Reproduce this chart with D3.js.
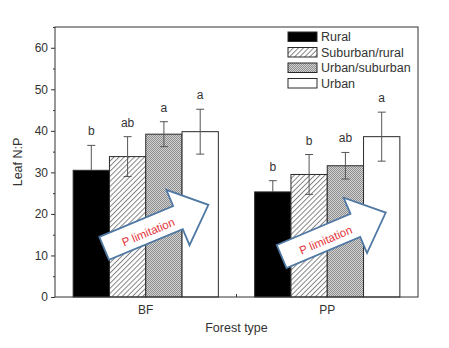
<!DOCTYPE html>
<html>
<head>
<meta charset="utf-8">
<script src="https://cdn.jsdelivr.net/npm/d3@7"></script>
<style>
  html, body { margin: 0; padding: 0; background: #fff; }
  svg text { font-family: "Liberation Sans", Arial, sans-serif; }
</style>
</head>
<body>
<svg id="chart" width="449" height="348"></svg>
<script>
// Leaf N:P by forest type along the rural-urban gradient
const forestTypes = ["BF", "PP"];
const gradient = ["Rural", "Suburban/rural", "Urban/suburban", "Urban"];
const meanBF = [30.5, 33.8, 39.2, 39.8];
const meanPP = [25.3, 29.5, 31.6, 38.6];
const errBF = [6.0, 4.8, 3.0, 5.4];
const errPP = [2.7, 4.8, 3.2, 5.9];
const lettersBF = ["b", "ab", "a", "a"];
const lettersPP = ["b", "b", "ab", "a"];
const yTicks = [0, 10, 20, 30, 40, 50, 60];
const arrowLabel = "P limitation";

const means = { BF: meanBF, PP: meanPP };
const errs = { BF: errBF, PP: errPP };
const letters = { BF: lettersBF, PP: lettersPP };

const rows = [];
forestTypes.forEach(ft => gradient.forEach((g, i) => rows.push({
  ft, g, i, mean: means[ft][i], err: errs[ft][i], letter: letters[ft][i]
})));

const svg = d3.select("#chart");
const margin = { left: 55, top: 27, right: 31, bottom: 51 };
const W = 449 - margin.left - margin.right;
const H = 348 - margin.top - margin.bottom;
const g = svg.append("g").attr("transform", `translate(${margin.left},${margin.top})`);

const x = d3.scaleBand().domain(forestTypes).range([0, W]).paddingInner(0.2).paddingOuter(0.1);
const xs = d3.scaleBand().domain(gradient).range([0, x.bandwidth()]).padding(0);
const y = d3.scaleLinear().domain([0, 65]).range([H, 0]);

// fill patterns
const defs = svg.append("defs");
const hatch = defs.append("pattern").attr("id", "hatch")
  .attr("patternUnits", "userSpaceOnUse").attr("width", 3.6).attr("height", 3.6)
  .attr("patternTransform", "rotate(45)");
hatch.append("rect").attr("width", 3.6).attr("height", 3.6).attr("fill", "#fff");
hatch.append("line").attr("x1", 0.5).attr("y1", 0).attr("x2", 0.5).attr("y2", 3.6)
  .attr("stroke", "#7a7a7a").attr("stroke-width", 0.9);

const check = defs.append("pattern").attr("id", "check")
  .attr("patternUnits", "userSpaceOnUse").attr("width", 2).attr("height", 2);
check.append("rect").attr("width", 2).attr("height", 2).attr("fill", "#d2d2d2");
check.append("rect").attr("x", 0).attr("y", 0).attr("width", 1).attr("height", 1).attr("fill", "#8e8e8e");
check.append("rect").attr("x", 1).attr("y", 1).attr("width", 1).attr("height", 1).attr("fill", "#8e8e8e");

const fills = { "Rural": "#000", "Suburban/rural": "url(#hatch)", "Urban/suburban": "url(#check)", "Urban": "#fff" };
const frameColor = "#333";

// bars
g.selectAll("rect.bar").data(rows).join("rect").attr("class", "bar")
  .attr("x", d => x(d.ft) + xs(d.g))
  .attr("y", d => y(d.mean))
  .attr("width", xs.bandwidth())
  .attr("height", d => y(0) - y(d.mean))
  .attr("fill", d => fills[d.g])
  .attr("stroke", "#2a2a2a").attr("stroke-width", 1);

// error bars (the lower half is hidden inside the solid black bar)
const eb = g.selectAll("g.err").data(rows).join("g").attr("class", "err")
  .attr("stroke", "#555").attr("stroke-width", 1);
eb.append("line")
  .attr("x1", d => x(d.ft) + xs(d.g) + xs.bandwidth() / 2)
  .attr("x2", d => x(d.ft) + xs(d.g) + xs.bandwidth() / 2)
  .attr("y1", d => y(d.mean + d.err))
  .attr("y2", d => d.g === "Rural" ? y(d.mean) : y(d.mean - d.err));
eb.append("line")
  .attr("x1", d => x(d.ft) + xs(d.g) + xs.bandwidth() / 2 - 4)
  .attr("x2", d => x(d.ft) + xs(d.g) + xs.bandwidth() / 2 + 4)
  .attr("y1", d => y(d.mean + d.err)).attr("y2", d => y(d.mean + d.err));
eb.filter(d => d.g !== "Rural").append("line")
  .attr("x1", d => x(d.ft) + xs(d.g) + xs.bandwidth() / 2 - 4)
  .attr("x2", d => x(d.ft) + xs(d.g) + xs.bandwidth() / 2 + 4)
  .attr("y1", d => y(d.mean - d.err)).attr("y2", d => y(d.mean - d.err));

// significance letters
g.selectAll("text.sig").data(rows).join("text").attr("class", "sig")
  .attr("x", d => x(d.ft) + xs(d.g) + xs.bandwidth() / 2)
  .attr("y", d => y(d.mean + d.err) - 10)
  .attr("text-anchor", "middle").attr("font-size", 12).attr("fill", "#333")
  .text(d => d.letter);

// "P limitation" arrows
const arrowPos = [
  { ft: "BF", dx: 31, v: 11.7, angle: -22.7 },
  { ft: "PP", dx: 27, v: 9.75, angle: -22.9 }
];
const arrowShape = [[0, -12.5], [80, -12.5], [80, -30], [113, 0], [80, 30], [80, 12.5], [0, 12.5]];
const arrows = g.selectAll("g.arrow").data(arrowPos).join("g").attr("class", "arrow")
  .attr("transform", d => `translate(${x(d.ft) + d.dx},${y(d.v)}) rotate(${d.angle})`);
arrows.append("path")
  .attr("d", d3.line()(arrowShape) + "Z")
  .attr("fill", "#fff").attr("stroke", "#4f78a3").attr("stroke-width", 1.8)
  .attr("stroke-linejoin", "miter");
arrows.append("text")
  .attr("x", 47).attr("y", 2)
  .attr("text-anchor", "middle").attr("dominant-baseline", "central")
  .attr("font-family", "'Open Sans', sans-serif")
  .attr("font-size", 11.5).attr("fill", "#e3343a")
  .text(arrowLabel);

// frame
g.append("rect").attr("width", W).attr("height", H)
  .attr("fill", "none").attr("stroke", frameColor).attr("stroke-width", 1);

// y axis
const yAxis = g.append("g").call(d3.axisLeft(y).tickValues(yTicks).tickSize(4).tickPadding(3));
yAxis.select(".domain").remove();
yAxis.selectAll("line").attr("stroke", frameColor);
yAxis.selectAll("text").attr("font-size", 12).attr("fill", "#333")
  .attr("font-family", "'Liberation Sans', Arial, sans-serif");
const yMinor = g.append("g").call(d3.axisLeft(y).tickValues([5, 15, 25, 35, 45, 55, 65]).tickSize(2).tickFormat(""));
yMinor.select(".domain").remove();
yMinor.selectAll("line").attr("stroke", frameColor);

// x axis
const xAxis = g.append("g").attr("transform", `translate(0,${H})`)
  .call(d3.axisBottom(x).tickSize(0).tickPadding(8));
xAxis.select(".domain").remove();
xAxis.selectAll("text").attr("font-size", 12).attr("fill", "#333")
  .attr("font-family", "'Liberation Sans', Arial, sans-serif");
// group boundary tick
g.append("line")
  .attr("x1", (x("BF") + x.bandwidth() + x("PP")) / 2).attr("x2", (x("BF") + x.bandwidth() + x("PP")) / 2)
  .attr("y1", H).attr("y2", H - 3).attr("stroke", frameColor);

// axis titles
svg.append("text").attr("transform", `translate(22,${margin.top + H / 2}) rotate(-90)`)
  .attr("text-anchor", "middle").attr("font-size", 12.5).attr("fill", "#333").text("Leaf N:P");
svg.append("text").attr("x", margin.left + W / 2).attr("y", 332)
  .attr("text-anchor", "middle").attr("font-size", 12.5).attr("fill", "#333").text("Forest type");

// legend
const legend = svg.append("g").selectAll("g").data(gradient).join("g")
  .attr("transform", (d, i) => `translate(288,${32 + i * 15.5})`);
legend.append("rect").attr("width", 29).attr("height", 9.5)
  .attr("fill", d => fills[d]).attr("stroke", "#2a2a2a").attr("stroke-width", 1);
legend.append("text").attr("x", 33).attr("y", 5).attr("dominant-baseline", "central")
  .attr("font-size", 12.5).attr("fill", "#333").text(d => d);
</script>
</body>
</html>
